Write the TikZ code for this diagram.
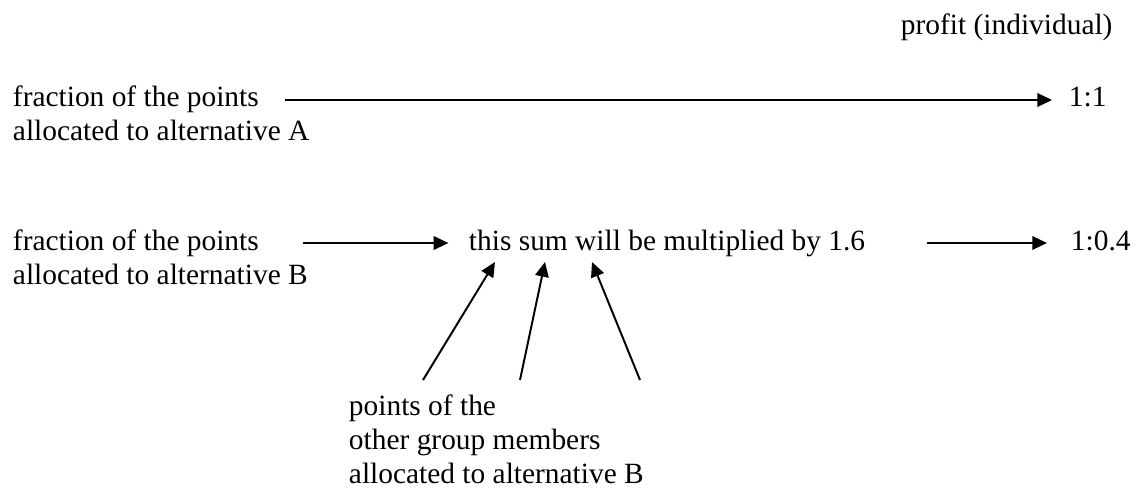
\documentclass[tikz,border=0pt]{standalone}
\usepackage{fontspec}
\setmainfont{Liberation Serif}
\usetikzlibrary{arrows.meta}
\begin{document}
\begin{tikzpicture}[x=0.01435cm, y=-0.01435cm, font=\fontsize{12}{13.8}\selectfont,
    line width=0.8pt, >={Triangle[length=6pt,width=5.5pt]},
    txt/.style={inner sep=0pt, anchor=base west, align=left}]
  \useasboundingbox (0,0) rectangle (1143,490);
  % texts (base = last line)
  \node[txt] (profit) at (900,34) {profit (individual)};
  \node[txt] (fracA) at (12,140) {fraction of the points\\allocated to alternative A};
  \node[txt] (fracB) at (12,284) {fraction of the points\\allocated to alternative B};
  \node[txt] (sum) at (468,250) {this sum will be multiplied by 1.6};
  \node[txt] (ratioA) at (1068,106) {1:1};
  \node[txt] (ratioB) at (1070,250) {1:0.4};
  \node[txt] (others) at (348,483) {points of the\\other group members\\allocated to alternative B};
  % free ends
  \coordinate (a0) at (285,100);
  \coordinate (b0) at (303,243);
  \coordinate (c0) at (927,243);
  \coordinate (t1) at (423,380);
  \coordinate (t2) at (520,380);
  \coordinate (t3) at (640,380);
  \coordinate (h1) at (495,262);
  \coordinate (h2) at (545,262);
  \coordinate (h3) at (592,262);
  % arrows
  \draw[->] (a0) -- (ratioA.west |- a0) [shorten >=6.5pt];
  \draw[->] (b0) -- (sum.west |- b0) [shorten >=8pt];
  \draw[->] (c0) -- (ratioB.west |- c0) [shorten >=9.4pt];
  \foreach \i in {1,2,3} \draw[->] (t\i) -- (h\i);
\end{tikzpicture}
\end{document}
